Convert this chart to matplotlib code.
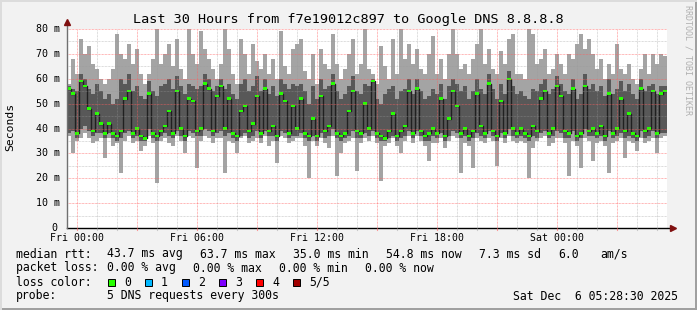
"""SmokePing style latency graph: last 30 hours to Google DNS 8.8.8.8."""

import matplotlib

matplotlib.use("Agg")
import matplotlib.pyplot as plt
import numpy as np
from matplotlib.patches import Rectangle

W, H = 697, 310
STEP_H = 0.2  # hours per column, graph starts Thu 23:30

# per column ping values in ms (sorted pings: min, 2nd, median, 4th, max)
rtt_min = [
    37, 30, 35, 36, 38, 36, 34, 35, 36, 28,
    36, 33, 34, 22, 35, 37, 34, 35, 31, 33,
    37, 34, 18, 35, 36, 34, 33, 37, 35, 30,
    37, 36, 24, 35, 37, 36, 34, 36,
    36, 22, 35, 34, 30, 36, 37, 34, 35, 36,
    34, 37, 33, 35, 26, 37, 36, 34, 35, 36,
    36, 33, 20, 35, 33, 36, 34, 32, 37, 21,
    30, 34, 35, 36, 23, 34, 36, 35,
    37, 34, 19, 33, 34, 36, 33, 30, 35, 37,
    34, 37, 35, 33, 27, 34, 34, 36, 32, 35,
    37, 36, 22, 34, 33, 24, 36, 35, 34, 36,
    35, 25, 36, 34, 37, 35, 34,
    35, 34, 20, 32, 35, 36, 37, 33, 34, 36,
    36, 34, 21, 35, 33, 24, 36, 35, 27, 34,
    35, 33, 22, 34, 35, 36, 28, 35, 34, 31,
    36, 34, 35, 36, 30, 36, 37,
]
rtt_p2 = [
    38, 39, 36, 40, 41, 39, 37, 38, 38, 36,
    38, 36, 35, 36, 38, 39, 36, 37, 35, 35,
    40, 36, 35, 37, 38, 37, 36, 39, 37, 35,
    39, 38, 37, 37, 40, 39, 37, 38,
    39, 37, 38, 36, 35, 37, 38, 36, 37, 39,
    36, 39, 37, 37, 35, 39, 38, 36, 37, 37,
    38, 36, 35, 37, 35, 38, 36, 37, 40, 36,
    35, 36, 37, 39, 36, 36, 38, 37,
    39, 36, 35, 35, 36, 37, 35, 36, 37, 39,
    36, 39, 37, 35, 35, 37, 36, 38, 35, 37,
    39, 38, 36, 37, 35, 36, 38, 37, 36, 39,
    37, 35, 38, 36, 40, 37, 36,
    37, 36, 35, 37, 36, 38, 39, 36, 37, 39,
    38, 36, 36, 39, 35, 36, 40, 37, 37, 36,
    37, 35, 39, 36, 37, 38, 36, 37, 36, 35,
    39, 36, 37, 39, 36, 38, 38,
]
rtt_median = [
    56, 54, 38, 59, 57, 48, 39, 46, 42, 38,
    42, 38, 37, 39, 52, 55, 38, 40, 37, 36,
    54, 38, 37, 39, 41, 47, 38, 55, 40, 37,
    52, 51, 39, 40, 58, 56, 39, 53,
    57, 40, 52, 38, 37, 47, 49, 39, 42, 53,
    38, 56, 39, 41, 37, 54, 51, 38, 49, 40,
    52, 38, 37, 44, 37, 53, 39, 41, 58, 38,
    37, 38, 47, 55, 39, 38, 50, 40,
    59, 38, 37, 36, 39, 46, 37, 39, 41, 55,
    38, 56, 39, 37, 38, 40, 38, 52, 37, 44,
    55, 49, 38, 40, 37, 39, 54, 41, 38, 58,
    39, 37, 51, 38, 60, 40, 38,
    40, 38, 37, 41, 39, 52, 55, 38, 40, 57,
    53, 39, 38, 56, 37, 38, 57, 39, 40, 38,
    41, 37, 54, 38, 40, 52, 39, 46, 38, 37,
    56, 39, 40, 55, 38, 54, 55,
]
rtt_p4 = [
    57, 56, 55, 62, 60, 56, 54, 58, 55, 52,
    54, 50, 52, 60, 58, 62, 55, 57, 53, 52,
    59, 55, 53, 57, 58, 60, 56, 61, 57, 54,
    58, 57, 56, 57, 62, 60, 55, 57,
    60, 56, 58, 54, 52, 58, 60, 55, 57, 61,
    55, 60, 54, 57, 53, 60, 58, 56, 58, 57,
    58, 55, 50, 57, 52, 60, 56, 57, 62, 55,
    52, 54, 57, 61, 55, 54, 58, 57,
    60, 52, 50, 54, 56, 57, 52, 55, 56, 60,
    54, 60, 55, 52, 53, 56, 54, 58, 52, 57,
    60, 58, 55, 57, 52, 55, 60, 56, 54, 62,
    56, 52, 58, 54, 63, 57, 54,
    55, 53, 52, 56, 55, 58, 60, 54, 56, 61,
    58, 55, 54, 60, 52, 54, 62, 56, 58, 55,
    57, 53, 60, 54, 56, 59, 55, 58, 54, 52,
    60, 55, 57, 58, 54, 57, 57,
]
rtt_max = [
    58, 68, 62, 76, 70, 73, 66, 64, 60, 58,
    60, 64, 78, 70, 68, 74, 66, 72, 62, 58,
    62, 68, 80, 66, 70, 74, 65, 76, 64, 60,
    80, 70, 66, 79, 72, 68, 64, 60,
    66, 80, 72, 62, 58, 76, 70, 62, 74, 67,
    64, 70, 62, 68, 60, 79, 65, 62, 72, 74,
    76, 63, 60, 70, 58, 72, 66, 64, 78, 66,
    60, 64, 70, 76, 62, 66, 80, 64,
    62, 58, 73, 65, 60, 76, 62, 80, 68, 74,
    66, 72, 64, 62, 70, 77, 62, 68, 60, 70,
    80, 70, 64, 66, 62, 68, 74, 80, 66, 72,
    64, 62, 71, 66, 76, 78, 62,
    62, 60, 80, 78, 66, 68, 72, 62, 64, 70,
    66, 62, 70, 68, 74, 78, 72, 76, 70, 64,
    68, 60, 66, 62, 74, 64, 62, 66, 60, 58,
    64, 70, 62, 70, 66, 70, 69,
]

time_labels = ["Fri 00:00", "Fri 06:00", "Fri 12:00", "Fri 18:00", "Sat 00:00"]
time_label_hours = [0.5, 6.5, 12.5, 18.5, 24.5]
y_ticks = [0, 10, 20, 30, 40, 50, 60, 70, 80]
y_tick_labels = ["0", "10 m", "20 m", "30 m", "40 m", "50 m", "60 m", "70 m", "80 m"]
loss_labels = ["0", "1", "2", "3", "4", "5/5"]
loss_colors = ["#26ff00", "#00b8ff", "#0059ff", "#7e00ff", "#ff0000", "#a10000"]

MONO = "DejaVu Sans Mono"
MAJOR = (1.0, 0.37, 0.37, 0.6)
MINOR = (0.6, 0.6, 0.6, 0.45)
DOTS = (0, (0.72, 0.72))


def fx(x):
    return x / W


def fy(y):
    return 1 - y / H


fig = plt.figure(figsize=(W / 100, H / 100), dpi=100, facecolor="#f2f2f2")
ax = fig.add_axes([fx(67), fy(228), 600 / W, 199 / H])
ax.set_facecolor("white")
ax.set_xlim(0, 30)
ax.set_ylim(0, 80)
for s in ax.spines.values():
    s.set_visible(False)
ax.set_xticks([])
ax.set_yticks([])

n = len(rtt_median)
edges = np.arange(n + 1) * STEP_H


def stepy(a):
    a = np.asarray(a, dtype=float)
    return np.append(a, a[-1])


ax.fill_between(edges, stepy(rtt_min), stepy(rtt_max), step="post",
                color="#a4a4a4", lw=0, zorder=1)
ax.fill_between(edges, stepy(rtt_p2), stepy(rtt_p4), step="post",
                color="#585858", lw=0, zorder=2)
ax.step(edges, stepy(rtt_median), where="post", color="#202020", lw=1.0, zorder=3)
centers = edges[:-1] + STEP_H / 2
med = np.asarray(rtt_median, dtype=float)
ax.bar(centers, 1.0, bottom=med - 0.5, width=STEP_H * 0.8,
       color=loss_colors[0], lw=0, zorder=4)

# grid drawn over the smoke like rrdtool does
for v in range(5, 80, 10):
    ax.axhline(v, color=MINOR, lw=0.72, linestyle=DOTS, zorder=5)
for v in range(10, 81, 10):
    ax.axhline(v, color=MAJOR, lw=0.72, linestyle=DOTS, zorder=6)
for h in np.arange(0.5, 30, 1.0):
    if (h - 0.5) % 3 == 0:
        ax.axvline(h, color=MAJOR, lw=0.72, linestyle=DOTS, zorder=6)
    else:
        ax.axvline(h, color=MINOR, lw=0.72, linestyle=DOTS, zorder=5)

# axes lines and arrows
ax.plot([0, 30.25], [0, 0], color="black", lw=1.0, clip_on=False, zorder=7)
ax.plot([0, 0], [0, 82.6], color="#707070", lw=1.0, clip_on=False, zorder=7)
ax.plot([30.3], [0], marker=">", color="#801010", ms=4, clip_on=False, zorder=8)
ax.plot([0], [83.0], marker="^", color="#801010", ms=4, clip_on=False, zorder=8)
for h in np.arange(0.5, 30, 1.0):
    c = MAJOR if (h - 0.5) % 3 == 0 else MINOR
    ax.plot([h, h], [0, -0.9], color=c, lw=0.8, clip_on=False, zorder=7)

# tick labels
for v, lab in zip(y_ticks, y_tick_labels):
    yy = 228 - v * 199 / 80
    xr = 57 if lab == "0" else 60
    fig.text(fx(xr), fy(yy), lab, ha="right", va="center", family=MONO, size=7.2)
for hh, lab in zip(time_label_hours, time_labels):
    fig.text(fx(67 + hh * 20), fy(238), lab, ha="center", va="center",
             family=MONO, size=7.1)

fig.text(fx(348), fy(19), "Last 30 Hours from f7e19012c897 to Google DNS 8.8.8.8",
         ha="center", va="center", family=MONO, size=9.7)
fig.text(fx(10), fy(127), "Seconds", rotation=90, ha="center", va="center",
         family=MONO, size=8.2)
fig.text(fx(688), fy(60), "RRDTOOL / TOBI OETIKER", rotation=-90, ha="center",
         va="center", family=MONO, size=6, color="#b0b0b0")

# legend rows
LEG = 8.3
rows = [
    (254, [(16, "median rtt:"), (107, "43.7 ms avg"), (200, "63.7 ms max"),
           (293, "35.0 ms min"), (386, "54.8 ms now"), (479, "7.3 ms sd"),
           (558, "6.0"), (600, "am/s")]),
    (268, [(16, "packet loss:"), (107, "0.00 % avg"), (193, "0.00 % max"),
           (279, "0.00 % min"), (365, "0.00 % now")]),
    (282, [(16, "loss color:")]),
    (296, [(16, "probe:"), (107, "5 DNS requests every 300s"),
           (513, "Sat Dec  6 05:28:30 2025")]),
]
for yy, parts in rows:
    for xx, txt in parts:
        fig.text(fx(xx), fy(yy), txt, ha="left", va="center", family=MONO, size=LEG)

box_x = [108, 145, 182, 219, 256, 293]
for bx, lab, col in zip(box_x, loss_labels, loss_colors):
    fig.patches.append(Rectangle((fx(bx), fy(285.5)), 7 / W, 7 / H,
                                 transform=fig.transFigure, facecolor=col,
                                 edgecolor="black", lw=0.7))
    fig.text(fx(bx + 16), fy(282), lab, ha="left", va="center", family=MONO, size=LEG)

# 3d-ish frame
fig.patches.append(Rectangle((0, 0), 1, 2 / H, transform=fig.transFigure,
                             facecolor="#a0a0a0", lw=0))
fig.patches.append(Rectangle((1 - 2 / W, 0), 2 / W, 1, transform=fig.transFigure,
                             facecolor="#a0a0a0", lw=0))
fig.patches.append(Rectangle((0, 1 - 2 / H), 1, 2 / H, transform=fig.transFigure,
                             facecolor="#dcdcdc", lw=0))
fig.patches.append(Rectangle((0, 0), 2 / W, 1, transform=fig.transFigure,
                             facecolor="#dcdcdc", lw=0))

fig.savefig("out.png", dpi=100, facecolor=fig.get_facecolor())
